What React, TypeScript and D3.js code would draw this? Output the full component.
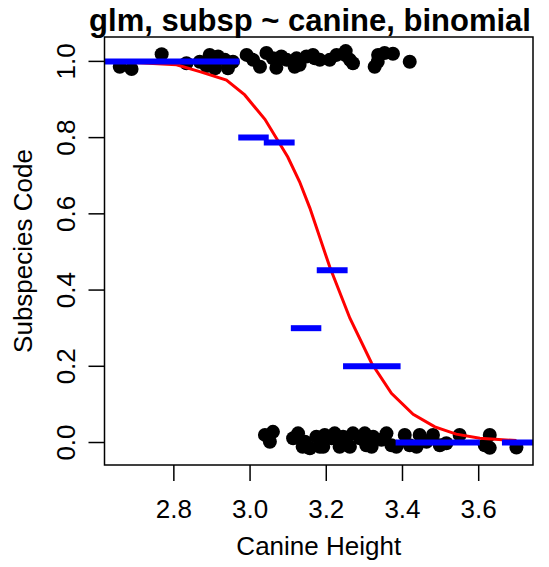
import React from "react";
import * as d3 from "d3";

// jittered observations, subspecies code 1 (top) and 0 (bottom)
const upperX = [2.658, 2.689, 2.768, 2.833, 2.868, 2.894, 2.886, 2.916, 2.934, 2.942, 2.908, 2.955, 2.991, 3.008, 3.026, 3.043, 3.060, 3.069, 3.082, 3.096, 3.117, 3.122, 3.130, 3.148, 3.165, 3.170, 3.183, 3.209, 3.227, 3.249, 3.251, 3.262, 3.270, 3.327, 3.335, 3.336, 3.353, 3.375, 3.419];
const upperY = [0.986, 0.980, 1.019, 0.995, 0.999, 1.017, 0.988, 1.013, 1.004, 0.982, 0.982, 0.999, 1.017, 1.004, 0.986, 1.022, 1.008, 0.983, 1.013, 1.004, 0.986, 1.008, 0.991, 1.013, 1.017, 1.008, 1.004, 1.004, 1.017, 1.017, 1.027, 1.004, 0.995, 0.986, 0.999, 1.017, 1.022, 1.020, 0.999];
const lowerX = [3.039, 3.060, 3.052, 3.113, 3.126, 3.138, 3.144, 3.157, 3.174, 3.183, 3.192, 3.196, 3.214, 3.222, 3.235, 3.244, 3.253, 3.262, 3.270, 3.288, 3.301, 3.305, 3.319, 3.323, 3.345, 3.358, 3.371, 3.384, 3.406, 3.419, 3.437, 3.445, 3.463, 3.480, 3.498, 3.515, 3.550, 3.616, 3.629, 3.629, 3.699];
const lowerY = [0.020, 0.028, 0.002, 0.011, 0.024, -0.011, 0.002, -0.015, 0.015, -0.011, -0.011, 0.020, 0.011, 0.024, -0.011, 0.015, -0.002, -0.011, 0.024, 0.011, 0.024, -0.007, -0.011, 0.015, 0.007, 0.024, -0.007, -0.011, 0.020, -0.007, -0.011, 0.020, 0.002, 0.020, -0.007, -0.002, 0.020, -0.007, 0.020, -0.014, -0.013];

// fitted glm curve
const fitX = [2.658, 2.807, 2.868, 2.938, 2.986, 3.039, 3.099, 3.130, 3.157, 3.209, 3.262, 3.319, 3.371, 3.428, 3.485, 3.541, 3.603, 3.699];
const fitY = [0.999, 0.991, 0.973, 0.951, 0.912, 0.848, 0.749, 0.684, 0.615, 0.461, 0.326, 0.208, 0.129, 0.074, 0.041, 0.022, 0.011, 0.005];

// binned proportions
const binStart = [2.60, 2.969, 3.036, 3.107, 3.175, 3.244, 3.382, 3.661];
const binEnd = [2.972, 3.049, 3.117, 3.187, 3.256, 3.395, 3.603, 3.80];
const binProp = [1.0, 0.8, 0.787, 0.3, 0.452, 0.2, 0.0, 0.0];

const xTicks = [2.8, 3.0, 3.2, 3.4, 3.6];
const yTicks = [0.0, 0.2, 0.4, 0.6, 0.8, 1.0];

const W = 549;
const H = 567;
const left = 104.5;
const right = 533;
const top = 37;
const bottom = 465;
const font = "'Liberation Sans', Arial, Helvetica, sans-serif";

const App = () => {
  const x = d3.scaleLinear().domain([2.618, 3.7425]).range([left, right]);
  const y = d3.scaleLinear().domain([-0.059, 1.064]).range([bottom, top]);

  const line = d3
    .line<number>()
    .x((d, i) => x(fitX[i]))
    .y(d => y(d));

  const pts = [
    ...upperX.map((v, i) => [v, upperY[i]]),
    ...lowerX.map((v, i) => [v, lowerY[i]])
  ];

  return (
    <svg width={W} height={H} style={{ position: "absolute", left: 0, top: 0 }} fontFamily={font}>
      <rect width={W} height={H} fill="white" />
      <defs>
        <clipPath id="plotclip">
          <rect x={left} y={top} width={right - left} height={bottom - top} />
        </clipPath>
      </defs>

      <g clipPath="url(#plotclip)">
        {pts.map((p, i) => (
          <circle key={i} cx={x(p[0])} cy={y(p[1])} r={7} fill="black" />
        ))}
        <path d={line(fitY) || ""} fill="none" stroke="#ff0000" strokeWidth={3} />
        {binProp.map((p, i) => (
          <line
            key={i}
            x1={x(binStart[i])}
            x2={x(binEnd[i])}
            y1={y(p)}
            y2={y(p)}
            stroke="#0000ff"
            strokeWidth={6}
          />
        ))}
      </g>

      <rect x={left} y={top} width={right - left} height={bottom - top} fill="none" stroke="black" strokeWidth={1.5} />

      {xTicks.map(t => (
        <g key={t}>
          <line x1={x(t)} x2={x(t)} y1={bottom} y2={bottom + 16} stroke="black" strokeWidth={1.5} />
          <text x={x(t)} y={518} textAnchor="middle" fontSize={26}>
            {d3.format(".1f")(t)}
          </text>
        </g>
      ))}
      {yTicks.map(t => (
        <g key={t}>
          <line x1={left - 16} x2={left} y1={y(t)} y2={y(t)} stroke="black" strokeWidth={1.5} />
          <text transform={`translate(75,${y(t)}) rotate(-90)`} textAnchor="middle" fontSize={26}>
            {d3.format(".1f")(t)}
          </text>
        </g>
      ))}

      <text x={(left + right) / 2} y={555} textAnchor="middle" fontSize={26}>
        Canine Height
      </text>
      <text transform={`translate(32,${(top + bottom) / 2}) rotate(-90)`} textAnchor="middle" fontSize={26}>
        Subspecies Code
      </text>
      <text x={310} y={31} textAnchor="middle" fontSize={31} fontWeight="bold">
        glm, subsp ~ canine, binomial
      </text>
    </svg>
  );
};

export default App;
